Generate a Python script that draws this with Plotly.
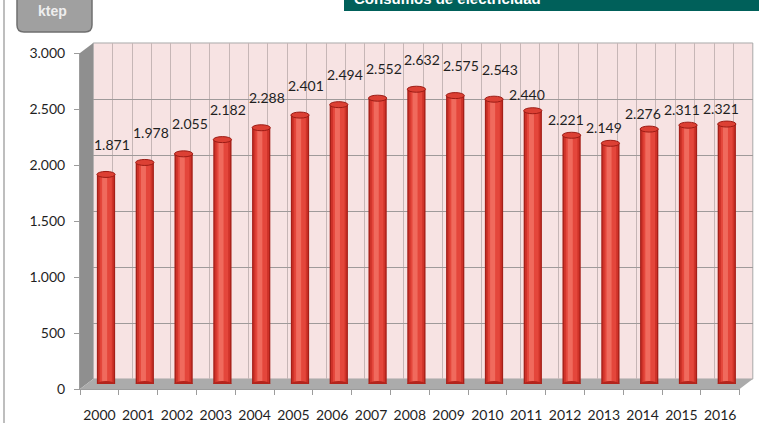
import plotly.graph_objects as go

# Consumo de electricidad (ktep), 2000-2016
years = [2000, 2001, 2002, 2003, 2004, 2005, 2006, 2007, 2008,
         2009, 2010, 2011, 2012, 2013, 2014, 2015, 2016]
consumo_ktep = [1871, 1978, 2055, 2182, 2288, 2401, 2494, 2552, 2632,
                2575, 2543, 2440, 2221, 2149, 2276, 2311, 2321]
y_ticks = [0, 500, 1000, 1500, 2000, 2500, 3000]
unit_label = "ktep"
title_text = "Consumos de electricidad"

W, H = 759, 423
Y_MAX = 3000
X_LO, X_HI = years[0] - 0.5, years[-1] + 0.5
STEP = 38.8                      # pixels per category
SPAN = STEP * (X_HI - X_LO)


def px_x(px):
    return px / W


def px_y(py):
    return 1 - py / H


def xdom(left):
    return [px_x(left), px_x(left + SPAN)]


def ydom(bottom, top):
    return [px_y(bottom), px_y(top)]


# three depth planes of the pseudo-3D box: back wall, bar plane, front edge
BACK_L, BACK_B, BACK_T = 93.2, 379, 43
MID_L, MID_B, MID_T = 86.6, 384, 48
FRONT_L, FRONT_B, FRONT_T = 80.0, 389, 53

fmt = lambda v: f"{v:,}".replace(",", ".")

fig = go.Figure()

# cylinder bodies: stacked overlay bars from dark rim to bright highlight
body_layers = [(0.47, "#a51f18", None), (0.40, "#cf3329", None),
               (0.30, "#e4463b", None), (0.13, "#f06a5d", -0.10)]
for width, color, offset in body_layers:
    fig.add_trace(go.Bar(
        x=years, y=consumo_ktep, width=width, offset=offset,
        marker=dict(color=color, line=dict(width=0)),
        xaxis="x3", yaxis="y3", showlegend=False, hoverinfo="skip"))

# empty traces so the back-wall and front-edge axes are laid out
for xa, ya in (("x", "y"), ("x2", "y2")):
    fig.add_trace(go.Scatter(x=[], y=[], xaxis=xa, yaxis=ya,
                             showlegend=False, hoverinfo="skip"))

shapes = []

def poly(points, fill, line_color=None, lw=0):
    path = "M " + " L ".join(f"{px_x(a):.5f},{px_y(b):.5f}" for a, b in points) + " Z"
    return dict(type="path", xref="paper", yref="paper", path=path,
                fillcolor=fill, layer="below",
                line=dict(color=line_color or fill, width=lw))

# back wall, left side wall and floor
shapes.append(poly([(BACK_L, BACK_B), (BACK_L, BACK_T),
                    (BACK_L + SPAN, BACK_T), (BACK_L + SPAN, BACK_B)],
                   "#f7e3e3", "#a9a9a9", 1))
shapes.append(poly([(FRONT_L, FRONT_B), (FRONT_L, FRONT_T),
                    (BACK_L, BACK_T), (BACK_L, BACK_B)], "#8f8f8f"))
shapes.append(poly([(FRONT_L, FRONT_B), (FRONT_L + SPAN, FRONT_B),
                    (BACK_L + SPAN, BACK_B), (BACK_L, BACK_B)], "#ababab"))

# cylinder end caps, in data coordinates of the bar plane
cap_h = 3.0 * Y_MAX / (MID_B - MID_T)
for yr, v in zip(years, consumo_ktep):
    shapes.append(dict(type="circle", xref="x3", yref="y3", layer="above",
                       x0=yr - 0.235, x1=yr + 0.235, y0=-cap_h, y1=cap_h,
                       fillcolor="#b3241c", line=dict(width=0)))
    shapes.append(dict(type="circle", xref="x3", yref="y3", layer="above",
                       x0=yr - 0.235, x1=yr + 0.235, y0=v - cap_h, y1=v + cap_h,
                       fillcolor="#dc4034", line=dict(color="#9c1c15", width=1)))

# left frame line
shapes.append(dict(type="line", xref="paper", yref="paper",
                   x0=px_x(4), x1=px_x(4), y0=0, y1=1,
                   line=dict(color="#a8a8a8", width=1.5), layer="below"))

# unit badge with rounded corners
bx0, bx1, by0, by1, r = 17, 92, -6, 32, 7
badge = (f"M {px_x(bx0):.5f},{px_y(by0):.5f} "
         f"L {px_x(bx0):.5f},{px_y(by1 - r):.5f} "
         f"Q {px_x(bx0):.5f},{px_y(by1):.5f} {px_x(bx0 + r):.5f},{px_y(by1):.5f} "
         f"L {px_x(bx1 - r):.5f},{px_y(by1):.5f} "
         f"Q {px_x(bx1):.5f},{px_y(by1):.5f} {px_x(bx1):.5f},{px_y(by1 - r):.5f} "
         f"L {px_x(bx1):.5f},{px_y(by0):.5f} Z")
shapes.append(dict(type="path", xref="paper", yref="paper", path=badge,
                   fillcolor="#a0a0a0", line=dict(color="#6f6f6f", width=1.5),
                   layer="above"))

# heading band
shapes.append(dict(type="rect", xref="paper", yref="paper",
                   x0=px_x(344), x1=1, y0=px_y(11), y1=1.01,
                   fillcolor="#00605a", line=dict(width=0), layer="above"))

annotations = []
for i, (yr, v) in enumerate(zip(years, consumo_ktep)):
    back_row = yr <= 2010
    annotations.append(dict(
        x=yr, y=v, xref="x3", yref="y3", text=fmt(v), showarrow=False,
        xanchor="center", yanchor="middle",
        xshift=6 if back_row else -6, yshift=30 if back_row else 16,
        font=dict(family="Lato", size=14, color="#1f1f1f")))

annotations.append(dict(x=px_x(53), y=px_y(11), xref="paper", yref="paper",
                        text=f"<b>{unit_label}</b>", showarrow=False,
                        xanchor="center", yanchor="middle",
                        font=dict(family="Liberation Sans", size=14, color="#eeeeee")))
annotations.append(dict(x=px_x(352), y=px_y(-1.5), xref="paper", yref="paper",
                        text=f"<b>{title_text}</b>", showarrow=False,
                        xanchor="left", yanchor="middle",
                        font=dict(family="Liberation Sans", size=15, color="#ffffff")))

hidden = dict(showticklabels=False, ticks="", showline=False, zeroline=False)
tickfont = dict(family="Lato", size=14, color="#1f1f1f")

fig.update_layout(
    width=W, height=H, autosize=False,
    margin=dict(l=0, r=0, t=0, b=0, autoexpand=False),
    paper_bgcolor="white", plot_bgcolor="rgba(0,0,0,0)",
    separators=",.",
    barmode="overlay",
    showlegend=False,
    # back wall grid
    xaxis=dict(domain=xdom(BACK_L), range=[X_LO, X_HI], anchor="y",
               tick0=X_LO, dtick=0.5, showgrid=True, gridcolor="#c6b6b6",
               gridwidth=1, **hidden),
    yaxis=dict(domain=ydom(BACK_B, BACK_T), range=[0, Y_MAX], anchor="x",
               tickvals=y_ticks, showgrid=True, gridcolor="#9f9a9a",
               gridwidth=1, **hidden),
    # front edge with the tick labels
    xaxis2=dict(domain=xdom(FRONT_L), range=[X_LO, X_HI], anchor="y2",
                tickvals=years, ticktext=[str(y) for y in years], ticks="",
                showgrid=False, zeroline=False, showline=True,
                linecolor="#9c9c9c", linewidth=1, tickfont=tickfont,
                ticklabelstandoff=13,
                minor=dict(tickvals=[y - 0.5 for y in years] + [X_HI],
                           ticks="outside", ticklen=5, tickcolor="#9c9c9c",
                           showgrid=False)),
    yaxis2=dict(domain=ydom(FRONT_B, FRONT_T), range=[0, Y_MAX], anchor="x2",
                tickvals=y_ticks, tickformat=",d", ticks="outside", ticklen=5,
                tickcolor="#9c9c9c", showgrid=False, zeroline=False,
                showline=True, linecolor="#9c9c9c", linewidth=1,
                tickfont=tickfont, ticklabelstandoff=6),
    # bar plane
    xaxis3=dict(domain=xdom(MID_L), range=[X_LO, X_HI], anchor="y3",
                showgrid=False, **hidden),
    yaxis3=dict(domain=ydom(MID_B, MID_T), range=[0, Y_MAX], anchor="x3",
                showgrid=False, **hidden),
    shapes=shapes,
    annotations=annotations,
)

fig.write_html("out.html")
